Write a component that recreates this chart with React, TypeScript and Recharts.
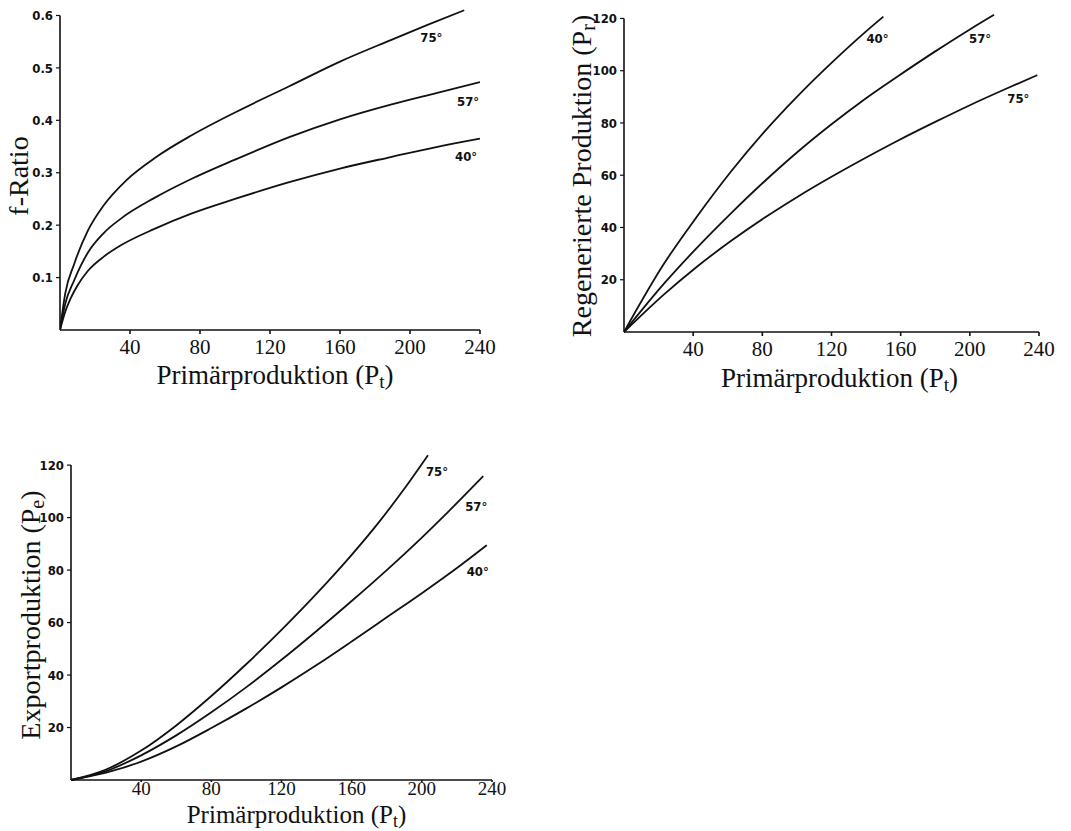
import { LineChart, Line, XAxis, YAxis, ReferenceLine } from 'recharts';

// x values (Primärproduktion) and y values per curve
const xTicks = [40, 80, 120, 160, 200, 240];

// f-Ratio
const fTicks = [0.1, 0.2, 0.3, 0.4, 0.5, 0.6];
const f75P = [0, 3, 8, 16, 25, 38, 55, 75, 100, 131, 160, 189, 210, 231];
const f75 = [0, 0.07, 0.125, 0.19, 0.238, 0.286, 0.33, 0.371, 0.415, 0.465, 0.512, 0.553, 0.582, 0.61];
const f57P = [0, 3, 8, 16, 25, 35, 54, 75, 100, 131, 160, 189, 215, 240];
const f57 = [0, 0.05, 0.094, 0.148, 0.185, 0.213, 0.252, 0.288, 0.325, 0.368, 0.402, 0.43, 0.452, 0.473];
const f40P = [0, 3, 6, 10, 16, 25, 35, 54, 75, 100, 131, 160, 189, 215, 240];
const f40 = [0, 0.035, 0.06, 0.085, 0.113, 0.14, 0.162, 0.193, 0.222, 0.25, 0.282, 0.308, 0.33, 0.349, 0.365];

// Regenerierte Produktion
const rTicks = [20, 40, 60, 80, 100, 120];
const r40P = [0, 23, 42, 62, 81, 100, 120, 139, 150];
const r40 = [0, 26, 44, 61.5, 76.5, 90, 103, 114.5, 120.7];
const r57P = [0, 23, 42, 62, 81, 100, 120, 139, 158, 180, 200, 214];
const r57 = [0, 18.4, 32.1, 45.5, 57.5, 68.7, 79.5, 89, 97.7, 107.4, 115.8, 121.4];
const r75P = [0, 23, 42, 62, 81, 100, 120, 139, 158, 180, 200, 220, 239];
const r75 = [0, 14.3, 24.9, 34.9, 43.6, 51.6, 59.4, 66.4, 73.1, 80.4, 86.8, 92.8, 98.3];

// Exportproduktion
const eTicks = [20, 40, 60, 80, 100, 120];
const e75P = [0, 20, 40, 60, 80, 100, 120, 140, 160, 175, 190, 203.5];
const e75 = [0, 4, 11.2, 20.8, 32, 44.2, 57.2, 71, 85.8, 97.8, 111, 123.8];
const e57P = [0, 20, 40, 60, 80, 100, 120, 140, 160, 180, 200, 215, 235];
const e57 = [0, 3.4, 9.4, 17, 25.8, 35.4, 45.8, 56.8, 68.2, 80, 92.4, 102.2, 115.8];
const e40P = [0, 20, 40, 60, 80, 100, 120, 140, 160, 180, 200, 220, 237];
const e40 = [0, 2.8, 7, 12.8, 19.8, 27.3, 35.3, 43.8, 52.8, 62, 71.2, 80.8, 89.5];

const zip = (xs: number[], ys: number[]) => xs.map((p, i) => ({ p, v: ys[i] }));

const SERIF = '"Liberation Serif", "Times New Roman", serif';
const SANS = '"DejaVu Sans Condensed", "DejaVu Sans", sans-serif';
const INK = '#111';

function Title({ x, y, main, sub, size, rotate }: { x: number; y: number; main: string; sub: string; size: number; rotate?: boolean }) {
  return (
    <text x={x} y={y} textAnchor="middle" fontFamily={SERIF} fontSize={size} fill={INK}
      transform={rotate ? `rotate(-90 ${x} ${y})` : undefined}>
      {sub ? (
        <>
          <tspan>{main} (P</tspan>
          <tspan dy={4} fontSize={size * 0.72}>{sub}</tspan>
          <tspan dy={-4}>)</tspan>
        </>
      ) : (
        <tspan>{main}</tspan>
      )}
    </text>
  );
}

const curveLabel = (text: string, last: number, dx: number, dy: number) => (p: any) =>
  p.index === last ? (
    <text key={text} x={p.x + dx} y={p.y + dy} fontFamily={SANS} fontSize={13} fontWeight="bold" fill={INK}>{text}</text>
  ) : null;

type Curve = { name: string; data: { p: number; v: number }[]; dx: number; dy: number };

function Panel(props: {
  left: number; top: number; width: number; height: number;
  margin: { top: number; right: number; bottom: number; left: number };
  yWidth: number; xHeight: number; yMax: number; yTop: number; yTicks: number[];
  yFmt: (v: number) => string; xTickMargin: number; xTickSize: number; xTickFont: number;
  curves: Curve[];
  xTitle: { dx: number; dy: number; size: number };
  yTitle: { text: string; sub: string; x: number; y: number };
}) {
  const { curves } = props;
  return (
    <div style={{ position: 'absolute', left: props.left, top: props.top }}>
      <LineChart width={props.width} height={props.height} margin={props.margin}>
        <XAxis type="number" dataKey="p" domain={[0, 240]} ticks={xTicks} allowDataOverflow
          stroke={INK} strokeWidth={1.6} tickSize={props.xTickSize} tickMargin={props.xTickMargin} height={props.xHeight}
          tick={{ fontFamily: SERIF, fontSize: props.xTickFont, fill: INK }}
          label={{
            content: (lp: any) => {
              const vb = lp.viewBox || { x: 0, y: 0, width: 0 };
              return <Title x={vb.x + vb.width / 2 + props.xTitle.dx} y={vb.y + props.xTitle.dy}
                main="Primärproduktion" sub="t" size={props.xTitle.size} />;
            },
          }} />
        <YAxis type="number" dataKey="v" domain={[0, props.yMax]} ticks={props.yTicks} width={props.yWidth}
          axisLine={false} tickLine={{ stroke: INK, strokeWidth: 1.2 }} tickSize={4} tickMargin={3}
          tickFormatter={props.yFmt}
          tick={{ fontFamily: SANS, fontSize: 13, fontWeight: 'bold', fill: INK }}
          label={{
            content: () => (
              <Title x={props.yTitle.x} y={props.yTitle.y} main={props.yTitle.text} sub={props.yTitle.sub}
                size={28} rotate />
            ),
          }} />
        <ReferenceLine segment={[{ x: 0, y: 0 }, { x: 0, y: props.yTop }]} stroke={INK} strokeWidth={1.6} />
        {curves.map((c) => (
          <Line key={c.name} data={c.data} dataKey="v" type="monotone" stroke={INK} strokeWidth={1.8}
            dot={false} activeDot={false} isAnimationActive={false}
            label={curveLabel(c.name, c.data.length - 1, c.dx, c.dy)} />
        ))}
      </LineChart>
    </div>
  );
}

export default function App() {
  return (
    <div style={{ position: 'absolute', left: 0, top: 0, width: 1071, height: 831, background: '#fff' }}>
      <Panel left={0} top={0} width={500} height={400}
        margin={{ top: 5, right: 20, bottom: 0, left: 0 }}
        yWidth={60} xHeight={70} yMax={0.62} yTop={0.6} yTicks={fTicks} yFmt={(v) => v.toFixed(1)}
        xTickMargin={5} xTickSize={4} xTickFont={21}
        xTitle={{ dx: 5, dy: 54, size: 27 }}
        yTitle={{ text: 'f-Ratio', sub: '', x: 28, y: 176 }}
        curves={[
          { name: '75°', data: zip(f75P, f75), dx: -44, dy: 32 },
          { name: '57°', data: zip(f57P, f57), dx: -23, dy: 24 },
          { name: '40°', data: zip(f40P, f40), dx: -25, dy: 22 },
        ]} />
      <Panel left={560} top={0} width={500} height={400}
        margin={{ top: 8, right: 21, bottom: 0, left: 0 }}
        yWidth={64} xHeight={68} yMax={124} yTop={120} yTicks={rTicks} yFmt={(v) => String(v)}
        xTickMargin={5} xTickSize={4} xTickFont={21}
        xTitle={{ dx: 8, dy: 55, size: 27 }}
        yTitle={{ text: 'Regenerierte Produktion', sub: 'r', x: 31, y: 176 }}
        curves={[
          { name: '40°', data: zip(r40P, r40), dx: -17, dy: 26 },
          { name: '57°', data: zip(r57P, r57), dx: -25, dy: 28 },
          { name: '75°', data: zip(r75P, r75), dx: -30, dy: 28 },
        ]} />
      <Panel left={0} top={420} width={520} height={411}
        margin={{ top: 32, right: 28, bottom: 0, left: 0 }}
        yWidth={71} xHeight={51} yMax={125} yTop={120} yTicks={eTicks} yFmt={(v) => String(v)}
        xTickMargin={0} xTickSize={2} xTickFont={19}
        xTitle={{ dx: 15, dy: 43, size: 25 }}
        yTitle={{ text: 'Exportproduktion', sub: 'e', x: 40, y: 195 }}
        curves={[
          { name: '75°', data: zip(e75P, e75), dx: -2, dy: 21 },
          { name: '57°', data: zip(e57P, e57), dx: -18, dy: 35 },
          { name: '40°', data: zip(e40P, e40), dx: -20, dy: 31 },
        ]} />
    </div>
  );
}
